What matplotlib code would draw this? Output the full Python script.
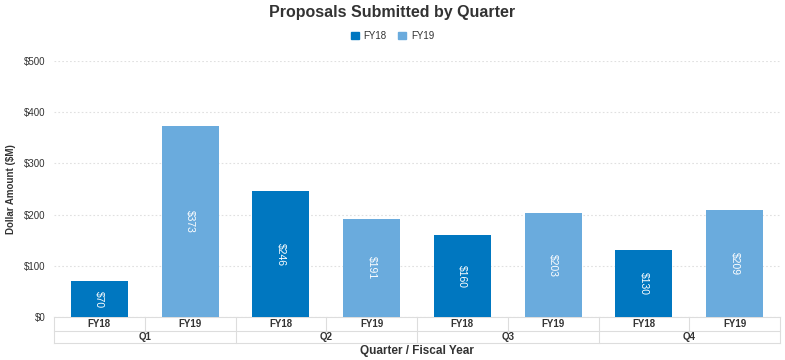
import matplotlib.pyplot as plt
import numpy as np

# Données
trimestres = ['Q1', 'Q2', 'Q3', 'Q4']
annees = ['FY18', 'FY19']
valeurs_fy18 = [70, 246, 160, 130]
valeurs_fy19 = [373, 191, 203, 209]

couleur_fy18 = '#0077c0'
couleur_fy19 = '#6aabdd'
gris_txt = '#333333'

plt.rcParams['font.family'] = ['Liberation Sans', 'DejaVu Sans']

fig = plt.figure(figsize=(7.85, 3.6), dpi=100)
ax = fig.add_axes([54/785, 43/360, 726/785, 256/360])

# positions : une catégorie par couple (trimestre, année)
valeurs = []
couleurs = []
etiquettes = []
for i in range(len(trimestres)):
    valeurs.append(valeurs_fy18[i])
    couleurs.append(couleur_fy18)
    etiquettes.append(annees[0])
    valeurs.append(valeurs_fy19[i])
    couleurs.append(couleur_fy19)
    etiquettes.append(annees[1])
x = np.arange(len(valeurs))

barres = ax.bar(x, valeurs, width=0.63, color=couleurs, zorder=3)
for b, v in zip(barres, valeurs):
    ax.text(b.get_x() + b.get_width()/2, v/2, '$%d' % v, rotation=-90,
            ha='center', va='center', color='white', fontsize=7.5, zorder=4)

ax.set_xlim(-0.5, len(valeurs) - 0.5)
ax.set_ylim(0, 500)
ax.set_yticks([0, 100, 200, 300, 400, 500])
ax.set_yticklabels(['$%d' % t for t in [0, 100, 200, 300, 400, 500]],
                   fontsize=7, color=gris_txt)
ax.tick_params(axis='y', length=0, pad=6)
ax.set_xticks([])
ax.grid(axis='y', color='#e0e0e0', linestyle=(0, (1.5, 2)), linewidth=0.8, zorder=0)
for s in ax.spines.values():
    s.set_visible(False)

ax.set_ylabel('Dollar Amount ($M)', fontsize=7, fontweight='bold', color=gris_txt, labelpad=6)

# tableau des catégories sous l'axe
trans = ax.get_xaxis_transform()
h1 = -14/256
h2 = -26/256
ligne = dict(color='#dddddd', linewidth=0.8, clip_on=False, transform=trans)
ax.plot([-0.5, len(valeurs) - 0.5], [0, 0], **ligne)
ax.plot([-0.5, len(valeurs) - 0.5], [h1, h1], **ligne)
ax.plot([-0.5, len(valeurs) - 0.5], [h2, h2], **ligne)
for k in range(len(valeurs) + 1):
    xb = k - 0.5
    if k % 2 == 0:
        ax.plot([xb, xb], [0, h2], **ligne)
    else:
        ax.plot([xb, xb], [0, h1], **ligne)
for k, lab in enumerate(etiquettes):
    ax.text(k, h1/2, lab, transform=trans, ha='center', va='center',
            fontsize=7, fontweight='bold', color=gris_txt)
for i, q in enumerate(trimestres):
    ax.text(2*i + 0.5, (h1 + h2)/2, q, transform=trans, ha='center', va='center',
            fontsize=7, fontweight='bold', color=gris_txt)

fig.text(417/785, 1 - 351/360, 'Quarter / Fiscal Year', ha='center', va='center',
         fontsize=8.5, fontweight='bold', color=gris_txt)

fig.text(0.5, 1 - 12/360, 'Proposals Submitted by Quarter', ha='center', va='center',
         fontsize=11.5, fontweight='bold', color=gris_txt)

# légende
from matplotlib.patches import Patch
poignees = [Patch(color=couleur_fy18, label='FY18'), Patch(color=couleur_fy19, label='FY19')]
fig.legend(handles=poignees, loc='center', bbox_to_anchor=(0.5, 1 - 36/360), ncol=2,
           frameon=False, fontsize=7, handlelength=0.8, handleheight=0.8,
           columnspacing=1.2, handletextpad=0.5, labelcolor=gris_txt)

fig.savefig('out.png', dpi=100)
